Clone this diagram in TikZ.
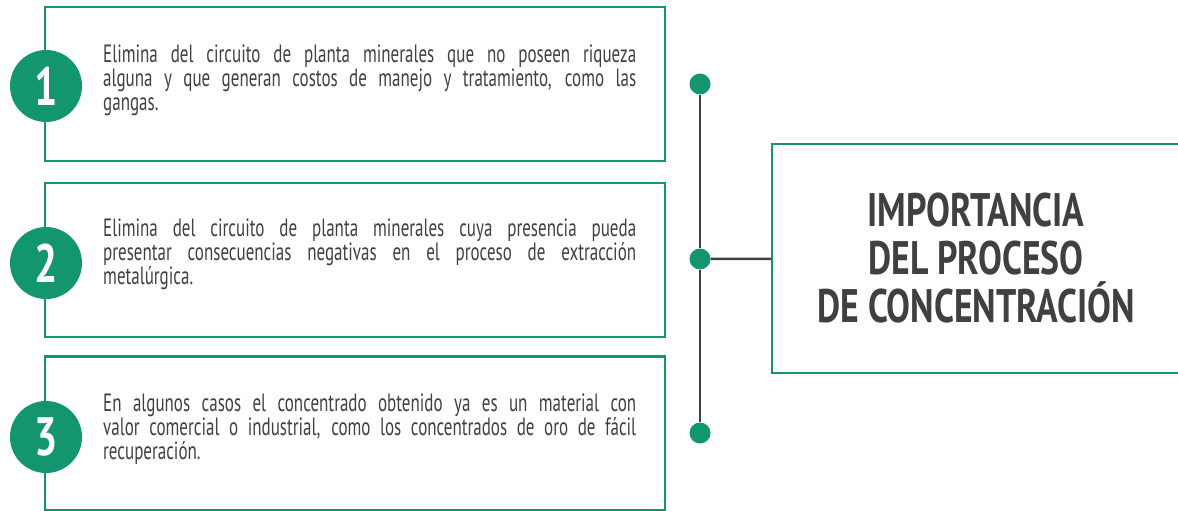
\documentclass[tikz,border=0pt]{standalone}
\usepackage{fontspec}
\setmainfont{PT Sans}[FakeStretch=0.68]
\newfontfamily\headfont{PT Sans}[FakeStretch=0.76]
\usetikzlibrary{positioning}
\definecolor{mingreen}{HTML}{139670}
\definecolor{ink}{HTML}{404040}

\begin{document}
\begin{tikzpicture}[x=1pt,y=-1pt,
    card/.style={draw=mingreen,line width=2.5pt,minimum width=620pt,
                 minimum height=154pt,inner sep=0pt},
    badge/.style={circle,fill=mingreen,minimum size=72pt,inner sep=0pt,
                  text=white,font=\headfont\fontsize{54}{54}\selectfont\bfseries},
    blurb/.style={anchor=west,text width=533pt,align=justify,inner sep=0pt,
                  text=ink,font=\fontsize{25}{24}\selectfont},
    dot/.style={circle,fill=mingreen,minimum size=21pt,inner sep=0pt},
    spine/.style={draw=ink,line width=2.5pt},
    hub/.style={draw=mingreen,line width=2.5pt,minimum width=408pt,
                minimum height=229pt,align=center,text=ink,
                font=\headfont\fontsize{47}{48}\selectfont\bfseries}
  ]
    \useasboundingbox (0,0) rectangle (1178,511);
    % three statement cards on the left
    \node[card] (c1) at (355,84) {};
    \node[card] (c2) at (355,260) {};
    \node[card] (c3) at (355,433.5) {};
    \node[blurb] (t1) at (103,80) {Elimina del circuito de planta minerales que no poseen riqueza\linebreak
      alguna y que generan costos de manejo y tratamiento, como las\linebreak gangas.};
    \node[blurb] (t2) at (103,254) {Elimina del circuito de planta minerales cuya presencia pueda\linebreak
      presentar consecuencias negativas en el proceso de extracción\linebreak metalúrgica.};
    \node[blurb] (t3) at (103,429) {En algunos casos el concentrado obtenido ya es un material con\linebreak
      valor comercial o industrial, como los concentrados de oro de fácil\linebreak recuperación.};
    \node[badge] (n1) at (46,86) {1};
    \node[badge] (n2) at (46,263) {2};
    \node[badge] (n3) at (46,437) {3};
    % spine with its three dots, joined to the title box
    \node[dot] (d1) at (700,84) {};
    \node[dot] (d2) at (700,259) {};
    \node[dot] (d3) at (700,433) {};
    \node[hub] (hub) at (976,258.5) {IMPORTANCIA\\DEL PROCESO\\DE CONCENTRACIÓN};
    \draw[spine] (d1) -- (d2);
    \draw[spine] (d2) -- (d3);
    \draw[spine] (d2) -- (hub);
  \end{tikzpicture}
\end{document}
